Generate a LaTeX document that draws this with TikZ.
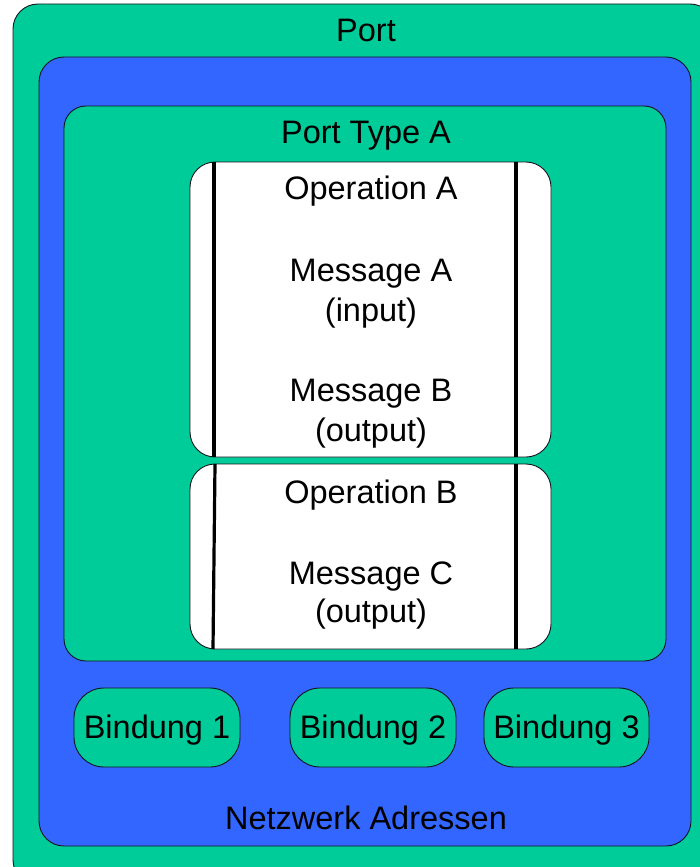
\documentclass[tikz,border=0pt]{standalone}
\usepackage{fontspec}
\setmainfont{Liberation Sans}
\definecolor{portgreen}{RGB}{0,204,153}
\definecolor{netblue}{RGB}{51,102,255}
\definecolor{edge}{RGB}{20,20,30}
\begin{document}
\begin{tikzpicture}[x=1pt,y=-1pt,
  container/.style={draw=edge, line width=0.9pt, rounded corners=#1, inner sep=0pt},
  container/.default=25pt,
  label/.style={anchor=base, inner sep=0pt, font=\fontsize{32.5}{38}\selectfont},
  divider/.style={line width=3.2pt, black}]
\useasboundingbox (0,0) rectangle (700,867);
\clip (0,0) rectangle (700,867);
% nested containers
\node[container, fill=portgreen, minimum width=702pt, minimum height=881pt] (port) at (364,444.5) {};
\node[container, fill=netblue, minimum width=652pt, minimum height=789pt] (net) at (365,451.5) {};
\node[container=22pt, fill=portgreen, minimum width=602pt, minimum height=555pt] (ptype) at (365,383.5) {};
% operations
\node[container, fill=white, minimum width=361pt, minimum height=295pt] (opa) at (370.5,309.5) {};
\node[container, fill=white, minimum width=361pt, minimum height=185pt] (opb) at (370.5,556.5) {};
\coordinate (a1t) at (214,162); \coordinate (a1b) at (214,457);
\coordinate (a2t) at (516,162); \coordinate (a2b) at (516,457);
\coordinate (b1t) at (215,464); \coordinate (b1b) at (213,649);
\coordinate (b2t) at (516,464); \coordinate (b2b) at (516,649);
\draw[divider] (a1t) -- (a1b);
\draw[divider] (a2t) -- (a2b);
\draw[divider] (b1t) -- (b1b);
\draw[divider] (b2t) -- (b2b);
% bindings
\node[container=30pt, fill=portgreen, minimum width=166pt, minimum height=79pt] (bind1) at (157,727.5) {};
\node[container=30pt, fill=portgreen, minimum width=166pt, minimum height=79pt] (bind2) at (373,727.5) {};
\node[container=30pt, fill=portgreen, minimum width=165pt, minimum height=79pt] (bind3) at (566.5,727.5) {};
% texts
\node[label] (tport) at (366,42) {Port};
\node[label] (tptype) at (366,143) {Port Type A};
\node[label] (topa) at (371,199) {Operation A};
\node[label] (tmsga) at (371,281) {Message A};
\node[label] (tmsgain) at (371,321) {(input)};
\node[label] (tmsgb) at (371,401) {Message B};
\node[label] (tmsgbout) at (371,441) {(output)};
\node[label] (topb) at (371,503) {Operation B};
\node[label] (tmsgc) at (371,584) {Message C};
\node[label] (tmsgcout) at (371,622) {(output)};
\node[label] (tb1) at (157,738) {Bindung 1};
\node[label] (tb2) at (373,738) {Bindung 2};
\node[label] (tb3) at (566.5,738) {Bindung 3};
\node[label] (tnet) at (366,829) {Netzwerk Adressen};
\end{tikzpicture}
\end{document}
